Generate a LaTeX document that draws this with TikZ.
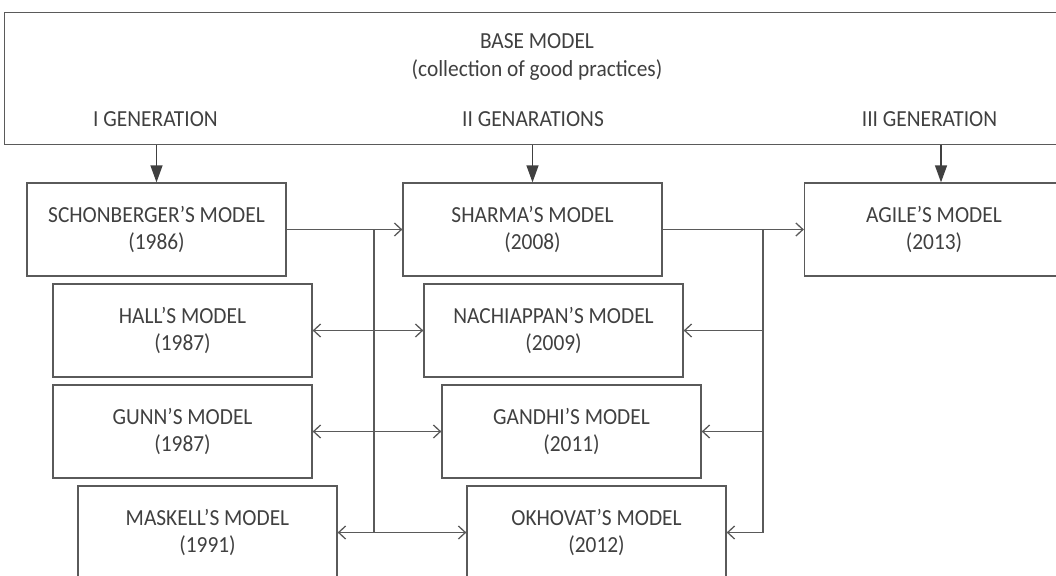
\documentclass[tikz,border=0pt]{standalone}
\usepackage{fontspec}
\setmainfont{Carlito}[FakeStretch=0.93]
\usetikzlibrary{arrows.meta,calc}
\definecolor{linegray}{HTML}{5A5A5A}
\definecolor{textgray}{HTML}{404040}
\begin{document}
\begin{tikzpicture}[x=1pt,y=-1pt,
  model/.style={draw=linegray,line width=1.3pt,minimum width=259pt,minimum height=93pt,inner sep=0pt,align=center,text=textgray,font=\fontsize{23}{27}\selectfont},
  lbl/.style={text=textgray,font=\fontsize{23}{27}\selectfont,inner sep=0pt},
  link/.style={draw=linegray,line width=1.3pt},
  tipend/.style={-{Straight Barb[length=7pt,width=13pt]}},
  tipboth/.style={{Straight Barb[length=7pt,width=13pt]}-{Straight Barb[length=7pt,width=13pt]}},
  gen/.style={draw=textgray,line width=1.3pt,-{Triangle[length=17pt,width=12pt]},fill=textgray}]
\useasboundingbox (0,0) rectangle (1056,575);
\clip (0,0) rectangle (1056,575);
% base box
\node[draw=linegray,line width=1.3pt,anchor=north west,minimum width=1070pt,minimum height=132pt,inner sep=0pt] (base) at (4,12) {};
\node[lbl] (t1) at (537,41) {BASE MODEL};
\node[lbl] (t2) at (537,70) {(collection of good practices)};
\node[lbl] (gl1) at (155.5,119) {I GENERATION};
\node[lbl] (gl2) at (533,119) {II GENARATIONS};
\node[lbl] (gl3) at (929.5,119) {III GENERATION};
% model boxes
\node[model] (schon) at (156.5,229.5) {SCHONBERGER’S MODEL\\(1986)};
\node[model] (sharma) at (532.5,229.5) {SHARMA’S MODEL\\(2008)};
\node[model] (agile) at (934,229.5) {AGILE’S MODEL\\(2013)};
\node[model] (hall) at (182.5,330.5) {HALL’S MODEL\\(1987)};
\node[model] (nach) at (553.5,330.5) {NACHIAPPAN’S MODEL\\(2009)};
\node[model] (gunn) at (182.5,431.5) {GUNN’S MODEL\\(1987)};
\node[model] (gandhi) at (571.5,431.5) {GANDHI’S MODEL\\(2011)};
\node[model] (maskell) at (207.5,532.5) {MASKELL’S MODEL\\(1991)};
\node[model] (okh) at (596.5,532.5) {OKHOVAT’S MODEL\\(2012)};
% generation arrows
\coordinate (g3) at (941,0);
\draw[gen] (base.south -| schon.north) -- (schon.north);
\draw[gen] (base.south -| sharma.north) -- (sharma.north);
\draw[gen] (base.south -| g3) -- (g3 |- agile.north);
% left connectors
\coordinate (v1) at (374,0);
\draw[link,tipend] (schon.east) -- (sharma.west);
\draw[link] (v1 |- schon.east) -- (v1 |- maskell.east);
\draw[link,tipboth] (hall.east) -- (nach.west);
\draw[link,tipboth] (gunn.east) -- (gandhi.west);
\draw[link,tipboth] (maskell.east) -- (okh.west);
% right connectors
\coordinate (v2) at (763,0);
\draw[link,tipend] (sharma.east) -- (agile.west);
\draw[link] (v2 |- sharma.east) -- (v2 |- okh.east);
\draw[link,tipend] (v2 |- nach.east) -- (nach.east);
\draw[link,tipend] (v2 |- gandhi.east) -- (gandhi.east);
\draw[link,tipend] (v2 |- okh.east) -- (okh.east);
\end{tikzpicture}
\end{document}
